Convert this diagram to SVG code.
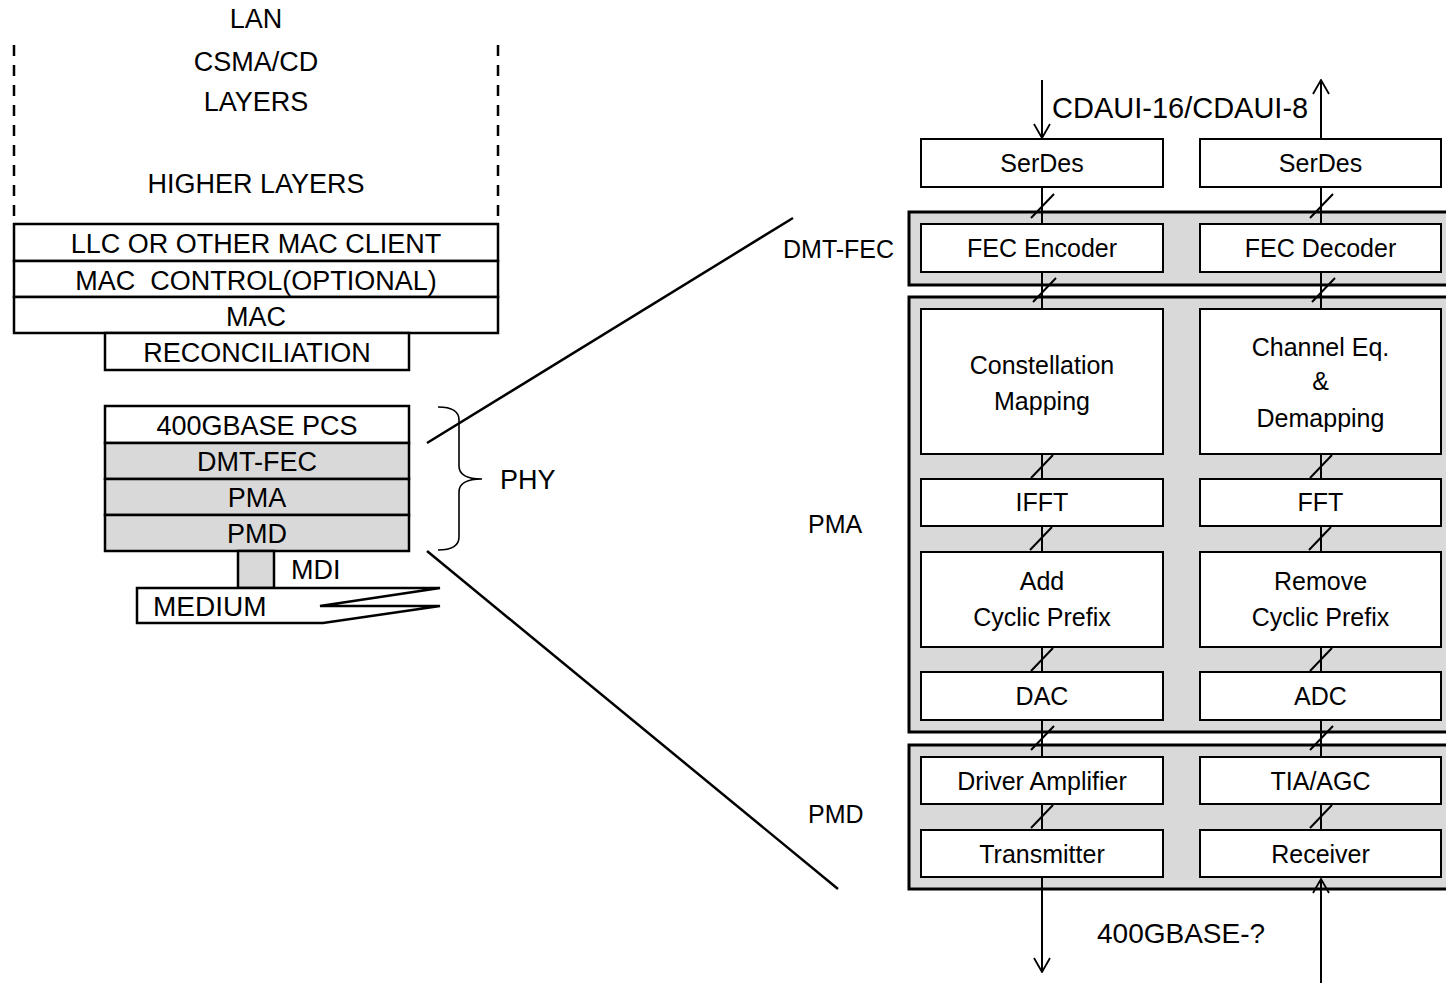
<svg xmlns="http://www.w3.org/2000/svg" width="1446" height="983" viewBox="0 0 1446 983">
<defs>
<style>
text{font-family:"Liberation Sans",Arial,sans-serif;fill:#000;}
.big{font-size:27px;text-anchor:middle;}
.lbl{font-size:25px;text-anchor:middle;}
.side{font-size:25px;}
.box{fill:#fff;stroke:#000;stroke-width:2;}
.layer{fill:#fff;stroke:#000;stroke-width:2.5;}
.gl{fill:#d9d9d9;stroke:#000;stroke-width:2.5;}
.grp{fill:#d9d9d9;stroke:#000;stroke-width:3;}
.ln{stroke:#000;stroke-width:2;fill:none;}
.thick{stroke:#000;stroke-width:2.5;fill:none;}
.dash{stroke:#000;stroke-width:2.5;stroke-dasharray:11 9;fill:none;}
</style>
<marker id="ah" viewBox="0 0 16 18" refX="15" refY="9" markerWidth="16" markerHeight="18" markerUnits="userSpaceOnUse" orient="auto-start-reverse">
<path d="M1,1 L15,9 L1,17" fill="none" stroke="#000" stroke-width="1.8"/>
</marker>
</defs>

<g id="higher-layers">
<line class="dash" x1="14" y1="45" x2="14" y2="224"/>
<line class="dash" x1="498" y1="45" x2="498" y2="224"/>
<text class="big" x="256" y="28">LAN</text>
<text class="big" x="256" y="71">CSMA/CD</text>
<text class="big" x="256" y="111">LAYERS</text>
<text class="big" x="256" y="193">HIGHER LAYERS</text>
</g>

<g id="llc">
<rect class="layer" x="14" y="224" width="484" height="37"/>
<text class="big" x="256" y="253">LLC OR OTHER MAC CLIENT</text>
</g>
<g id="mac-control">
<rect class="layer" x="14" y="261" width="484" height="36"/>
<text class="big" x="256" y="290" xml:space="preserve">MAC  CONTROL(OPTIONAL)</text>
</g>
<g id="mac">
<rect class="layer" x="14" y="297" width="484" height="36"/>
<text class="big" x="256" y="326">MAC</text>
</g>
<g id="reconciliation">
<rect class="layer" x="105" y="333" width="304" height="37"/>
<text class="big" x="257" y="362">RECONCILIATION</text>
</g>
<g id="pcs">
<rect class="layer" x="105" y="406" width="304" height="37"/>
<text class="big" x="257" y="435">400GBASE PCS</text>
</g>
<g id="dmt-fec-layer">
<rect class="gl" x="105" y="443" width="304" height="36"/>
<text class="big" x="257" y="471">DMT-FEC</text>
</g>
<g id="pma-layer">
<rect class="gl" x="105" y="479" width="304" height="36"/>
<text class="big" x="257" y="507">PMA</text>
</g>
<g id="pmd-layer">
<rect class="gl" x="105" y="515" width="304" height="36"/>
<text class="big" x="257" y="543">PMD</text>
</g>
<g id="mdi">
<rect class="gl" x="238" y="551" width="36" height="37"/>
<text style="font-size:27px" x="291" y="579">MDI</text>
</g>
<g id="medium">
<polygon points="137,588 440,588 320,606 440,606 323,623 137,623" fill="#fff" stroke="#000" stroke-width="2.5" stroke-linejoin="miter"/>
<text style="font-size:28px" x="153" y="616">MEDIUM</text>
</g>
<g id="phy">
<path class="ln" style="stroke-width:1.6" d="M438,407 Q459,407 459,420 L459,466 Q459,479 482,479 Q459,479 459,492 L459,537 Q459,550 438,550"/>
<text style="font-size:27px" x="500" y="489">PHY</text>
</g>

<g id="side-labels">
<text class="side" x="783" y="258">DMT-FEC</text>
<text class="side" x="808" y="533">PMA</text>
<text class="side" x="808" y="823">PMD</text>
</g>

<g id="group-dmt-fec"><rect class="grp" x="909" y="212" width="545" height="73"/></g>
<g id="group-pma"><rect class="grp" x="909" y="297" width="545" height="435"/></g>
<g id="group-pmd"><rect class="grp" x="909" y="745" width="545" height="144"/></g>

<g id="connectors">
<line class="thick" x1="427" y1="443" x2="793" y2="218"/>
<line class="thick" x1="427" y1="551" x2="838" y2="889"/>
<line class="ln" x1="1042" y1="80" x2="1042" y2="138" marker-end="url(#ah)"/>
<line class="ln" x1="1321" y1="139" x2="1321" y2="80" marker-end="url(#ah)"/>
<line class="ln" x1="1042" y1="877" x2="1042" y2="972" marker-end="url(#ah)"/>
<line class="ln" x1="1321" y1="983" x2="1321" y2="879" marker-end="url(#ah)"/>
<path class="ln" d="M1042,187V224M1042,272V309M1042,454V479M1042,526V552M1042,647V672M1042,720V757M1042,804V830"/>
<path class="ln" d="M1321,187V224M1321,272V309M1321,454V479M1321,526V552M1321,647V672M1321,720V757M1321,804V830"/>
<path class="ln" d="M1031,218L1054,194M1033,302L1056,278M1031,478L1053,455M1030,550L1052,527M1031,671L1053,648M1031,750L1054,726M1031,828L1053,805"/>
<path class="ln" d="M1310,218L1333,194M1312,302L1335,278M1310,478L1332,455M1309,550L1331,527M1310,671L1332,648M1310,750L1333,726M1310,828L1332,805"/>
</g>

<g id="serdes-tx"><rect class="box" x="921" y="139" width="242" height="48"/><text class="lbl" x="1042" y="172">SerDes</text></g>
<g id="serdes-rx"><rect class="box" x="1200" y="139" width="241" height="48"/><text class="lbl" x="1320.5" y="172">SerDes</text></g>
<g id="fec-encoder"><rect class="box" x="921" y="224" width="242" height="48"/><text class="lbl" x="1042" y="257">FEC Encoder</text></g>
<g id="fec-decoder"><rect class="box" x="1200" y="224" width="241" height="48"/><text class="lbl" x="1320.5" y="257">FEC Decoder</text></g>
<g id="constellation"><rect class="box" x="921" y="309" width="242" height="145"/><text class="lbl" x="1042" y="374">Constellation</text><text class="lbl" x="1042" y="410">Mapping</text></g>
<g id="channel-eq"><rect class="box" x="1200" y="309" width="241" height="145"/><text class="lbl" x="1320.5" y="356">Channel Eq.</text><text class="lbl" x="1320.5" y="390">&amp;</text><text class="lbl" x="1320.5" y="427">Demapping</text></g>
<g id="ifft"><rect class="box" x="921" y="479" width="242" height="47"/><text class="lbl" x="1042" y="511">IFFT</text></g>
<g id="fft"><rect class="box" x="1200" y="479" width="241" height="47"/><text class="lbl" x="1320.5" y="511">FFT</text></g>
<g id="add-cp"><rect class="box" x="921" y="552" width="242" height="95"/><text class="lbl" x="1042" y="590">Add</text><text class="lbl" x="1042" y="626">Cyclic Prefix</text></g>
<g id="remove-cp"><rect class="box" x="1200" y="552" width="241" height="95"/><text class="lbl" x="1320.5" y="590">Remove</text><text class="lbl" x="1320.5" y="626">Cyclic Prefix</text></g>
<g id="dac"><rect class="box" x="921" y="672" width="242" height="48"/><text class="lbl" x="1042" y="705">DAC</text></g>
<g id="adc"><rect class="box" x="1200" y="672" width="241" height="48"/><text class="lbl" x="1320.5" y="705">ADC</text></g>
<g id="driver"><rect class="box" x="921" y="757" width="242" height="47"/><text class="lbl" x="1042" y="790">Driver Amplifier</text></g>
<g id="tia"><rect class="box" x="1200" y="757" width="241" height="47"/><text class="lbl" x="1320.5" y="790">TIA/AGC</text></g>
<g id="transmitter"><rect class="box" x="921" y="830" width="242" height="47"/><text class="lbl" x="1042" y="863">Transmitter</text></g>
<g id="receiver"><rect class="box" x="1200" y="830" width="241" height="47"/><text class="lbl" x="1320.5" y="863">Receiver</text></g>

<g id="interface-labels">
<text style="font-size:29px" x="1052" y="118">CDAUI-16/CDAUI-8</text>
<text style="font-size:28px" x="1097" y="943">400GBASE-?</text>
</g>
</svg>
